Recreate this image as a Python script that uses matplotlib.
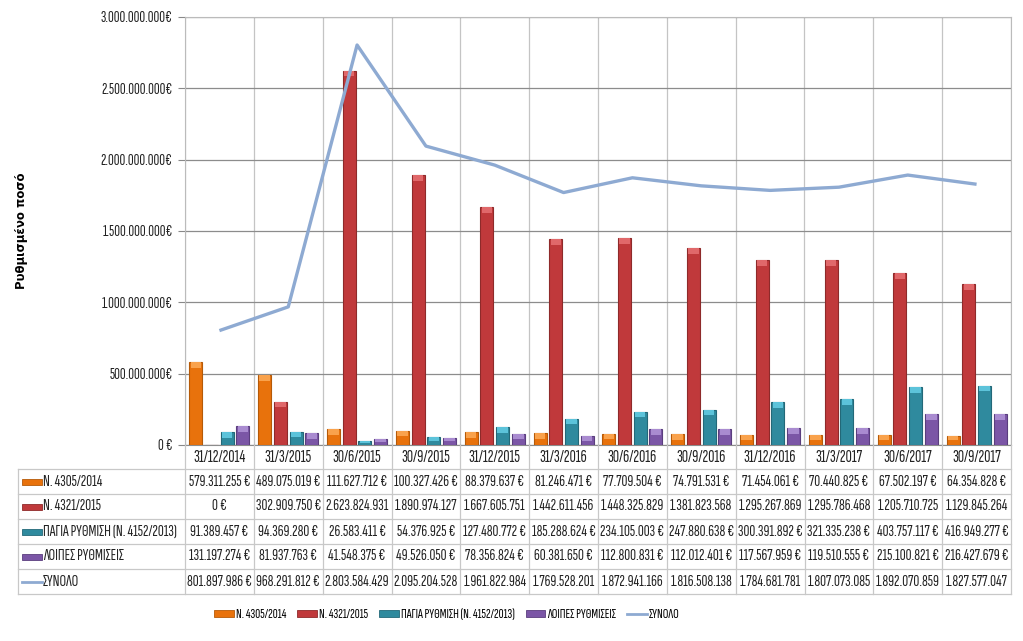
import matplotlib
matplotlib.use("Agg")
import matplotlib.pyplot as plt
import numpy as np
from matplotlib.lines import Line2D
from matplotlib.patches import Rectangle

# narrow face close to the Calibri look of the original, with fallbacks
plt.rcParams['font.family'] = ['Sofia Sans Extra Condensed', 'Carlito', 'DejaVu Sans']

dates = ["31/12/2014", "31/3/2015", "30/6/2015", "30/9/2015", "31/12/2015",
         "31/3/2016", "30/6/2016", "30/9/2016", "31/12/2016", "31/3/2017",
         "30/6/2017", "30/9/2017"]
series_names = ["Ν. 4305/2014", "Ν. 4321/2015", "ΠΑΓΙΑ ΡΥΘΜΙΣΗ (Ν. 4152/2013)",
                "ΛΟΙΠΕΣ ΡΥΘΜΙΣΕΙΣ"]
total_name = "ΣΥΝΟΛΟ"

n4305 = [579311255, 489075019, 111627712, 100327426, 88379637, 81246471,
         77709504, 74791531, 71454061, 70440825, 67502197, 64354828]
n4321 = [0, 302909750, 2623824931, 1890974127, 1667605751, 1442611456,
         1448325829, 1381823568, 1295267869, 1295786468, 1205710725, 1129845264]
pagia = [91389457, 94369280, 26583411, 54376925, 127480772, 185288624,
         234105003, 247880638, 300391892, 321335238, 403757117, 416949277]
loipes = [131197274, 81937763, 41548375, 49526050, 78356824, 60381650,
          112800831, 112012401, 117567959, 119510555, 215100821, 216427679]
synolo = [801897986, 968291812, 2803584429, 2095204528, 1961822984, 1769528201,
          1872941166, 1816508138, 1784681781, 1807073085, 1892070859, 1827577047]

yticks = [0, 500e6, 1000e6, 1500e6, 2000e6, 2500e6, 3000e6]
ytick_labels = ["0 €", "500.000.000€", "1.000.000.000€", "1.500.000.000€",
                "2.000.000.000€", "2.500.000.000€", "3.000.000.000€"]

bar_colors = ["#E8720C", "#C0393B", "#2F8A9E", "#7B56A6"]
cap_colors = ["#F9A24C", "#E0686A", "#5CC3DA", "#A98BD0"]
edge_colors = ["#B55A08", "#8E2A2A", "#236878", "#5A3E7E"]
line_color = "#8EAAD2"
text_c = "#222222"


def fmt(v):
    s = f"{v:,}".replace(",", ".")
    if v >= 1e9:
        return s
    return s + " €"


W, H = 1023, 641
fig = plt.figure(figsize=(W / 100, H / 100), dpi=100)

# plot area in pixels
px0, px1, py_top, py_bot = 185, 1011, 17, 445
ax = fig.add_axes([px0 / W, 1 - py_bot / H, (px1 - px0) / W, (py_bot - py_top) / H])

n = len(dates)
x = np.arange(n)
slot = 0.228
bw = 0.19
data = [n4305, n4321, pagia, loipes]
for k, vals in enumerate(data):
    xs = x + (k - 1.5) * slot
    vals = np.array(vals, dtype=float)
    ax.bar(xs, vals, width=bw, color=bar_colors[k], edgecolor=edge_colors[k],
           linewidth=0.8, zorder=3)
    # lighter bevel on top of each bar
    cap = np.minimum(40e6, vals * 0.5)
    ax.bar(xs, cap, width=bw * 0.8, bottom=vals - cap, color=cap_colors[k],
           linewidth=0, zorder=4)

ax.plot(x, synolo, color=line_color, linewidth=2.4, zorder=5,
        solid_capstyle='butt')

ax.set_xlim(-0.5, n - 0.5)
ax.set_ylim(0, 3000e6)
ax.set_yticks(yticks)
ax.set_yticklabels(ytick_labels, fontsize=11.5, color=text_c)
ax.set_xticks(np.arange(n + 1) - 0.5, minor=True)
ax.set_xticks([])
ax.tick_params(axis='y', length=5, color="#888888", pad=4)
ax.grid(axis='y', color="#8C8C8C", linewidth=0.9, zorder=0)
ax.grid(axis='x', which='minor', color="#C4C4C4", linewidth=0.9, zorder=0)
ax.tick_params(axis='x', which='minor', length=0)
for side in ['top', 'right', 'left']:
    ax.spines[side].set_color("#BBBBBB")
ax.spines['bottom'].set_color("#8C8C8C")

fig.text(22 / W, 1 - 231 / H, "Ρυθμισμένο ποσό", rotation=90, fontsize=8.5,
         fontweight='bold', ha='center', va='center', family=['DejaVu Sans'])

# data table drawn in pixel coordinates
tax = fig.add_axes([0, 0, 1, 1])
tax.set_xlim(0, W)
tax.set_ylim(H, 0)
tax.axis('off')
grid_c = "#C8C8C8"
tx0 = 18
row_h = 25
hdr_top, hdr_bot = 445, 469
rows_bot = hdr_bot + 5 * row_h
colw = (px1 - px0) / n
fs = 11.8

for i in range(n + 1):
    xx = px0 + i * colw
    tax.add_line(Line2D([xx, xx], [hdr_top, rows_bot], color=grid_c, lw=0.9))
tax.add_line(Line2D([tx0, tx0], [hdr_bot, rows_bot], color=grid_c, lw=0.9))
for r in range(6):
    yy = hdr_bot + r * row_h
    tax.add_line(Line2D([tx0, px1], [yy, yy], color=grid_c, lw=0.9))

for i, d in enumerate(dates):
    tax.text(px0 + (i + 0.5) * colw, (hdr_top + hdr_bot) / 2 + 1, d,
             ha='center', va='center', fontsize=12.5, color=text_c)

rows = data + [synolo]
names = series_names + [total_name]
for r, (name, vals) in enumerate(zip(names, rows)):
    yc = hdr_bot + (r + 0.5) * row_h
    if r < 4:
        tax.add_patch(Rectangle((22, yc - 3), 20, 6, facecolor=bar_colors[r],
                                edgecolor=edge_colors[r], lw=0.6))
    else:
        tax.add_line(Line2D([22, 42], [yc, yc], color=line_color, lw=2))
    tax.text(43, yc, name, ha='left', va='center', fontsize=fs, color=text_c)
    for i, v in enumerate(vals):
        tax.text(px0 + (i + 0.5) * colw, yc, fmt(v), ha='center', va='center',
                 fontsize=fs, color=text_c)

# bottom legend
handles = [Rectangle((0, 0), 1, 1, facecolor=bar_colors[k],
                     edgecolor=edge_colors[k], lw=0.6) for k in range(4)]
handles.append(Line2D([0], [0], color=line_color, lw=2))
fig.legend(handles, names, loc='center', bbox_to_anchor=(447 / W, 1 - 615 / H),
           ncol=5, frameon=False, fontsize=10, handlelength=1.4,
           handleheight=0.45, handletextpad=0.15, columnspacing=0.8)

fig.savefig("out.png", dpi=100)
